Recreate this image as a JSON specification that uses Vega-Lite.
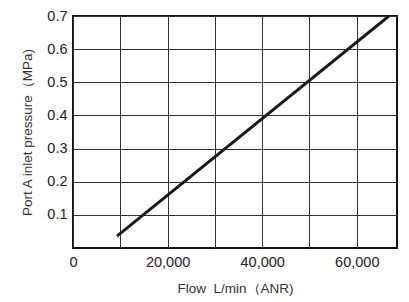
{
  "$schema": "https://vega.github.io/schema/vega-lite/v6.json",
  "width": 324,
  "height": 232,
  "autosize": {"type": "none"},
  "padding": {"left": 73, "top": 16, "right": 12, "bottom": 54},
  "background": "white",
  "data": {"values": [
    {"flow": 9300, "pressure": 0.036},
    {"flow": 66800, "pressure": 0.7}
  ]},
  "mark": {"type": "line", "color": "#1a1a1a", "strokeWidth": 3, "strokeCap": "butt", "clip": true},
  "encoding": {
    "x": {
      "field": "flow", "type": "quantitative",
      "scale": {"domain": [0, 68500], "nice": false, "zero": false},
      "axis": {
        "title": "Flow\u00a0\u00a0L/min（ANR)",
        "values": [0, 10000, 20000, 30000, 40000, 50000, 60000],
        "labelExpr": "datum.value % 20000 == 0 ? format(datum.value, ',') : ''",
        "grid": true, "gridColor": "#333", "gridWidth": 1, "gridOpacity": 1,
        "ticks": false, "domain": false,
        "labelFont": "Liberation Sans", "labelFontSize": 14.5, "labelColor": "#222",
        "labelPadding": 7, "labelFlush": false,
        "titleFont": "Liberation Sans", "titleFontSize": 13.5, "titleFontWeight": "normal", "titleColor": "#333",
        "titlePadding": 13
      }
    },
    "y": {
      "field": "pressure", "type": "quantitative",
      "scale": {"domain": [0, 0.7], "nice": false},
      "axis": {
        "title": "Port A inlet pressure（MPa)",
        "values": [0.1, 0.2, 0.3, 0.4, 0.5, 0.6, 0.7],
        "format": ".1f",
        "grid": true, "gridColor": "#333", "gridWidth": 1, "gridOpacity": 1,
        "ticks": false, "domain": false,
        "labelFont": "Liberation Sans", "labelFontSize": 14.5, "labelColor": "#222",
        "labelPadding": 6, "labelFlush": false,
        "titleFont": "Liberation Sans", "titleFontSize": 13.5, "titleFontWeight": "normal", "titleColor": "#333",
        "titlePadding": 12
      }
    }
  },
  "config": {
    "view": {"stroke": "#111", "strokeWidth": 2}
  }
}
